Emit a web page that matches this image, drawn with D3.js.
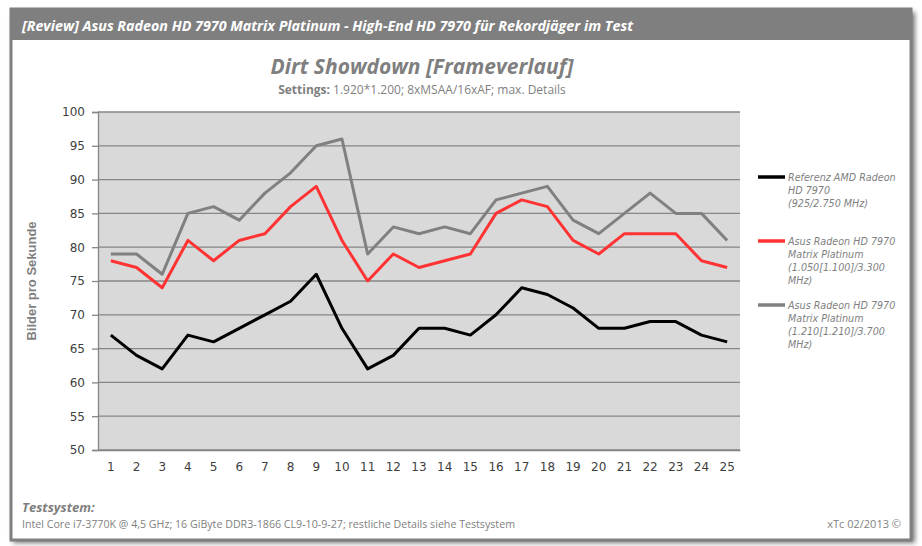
<!DOCTYPE html>
<html>
<head>
<meta charset="utf-8">
<script src="https://cdn.jsdelivr.net/npm/d3@7"></script>
<style>
  body { margin: 0; background: #fff; }
  svg text { font-family: "DejaVu Sans", Verdana, sans-serif; }
</style>
</head>
<body>
<svg id="board"></svg>
<script>
// data
let runs = d3.range(1, 26)
let refAmd = [67,64,62,67,66,68,70,72,76,68,62,64,68,68,67,70,74,73,71,68,68,69,69,67,66]
let matrixStock = [78,77,74,81,78,81,82,86,89,81,75,79,77,78,79,85,87,86,81,79,82,82,82,78,77]
let matrixOc = [79,79,76,85,86,84,88,91,95,96,79,83,82,83,82,87,88,89,84,82,85,88,85,85,81]
let yTicks = [50,55,60,65,70,75,80,85,90,95,100]

let seriesNames = [
  ['Referenz AMD Radeon', 'HD 7970', '(925/2.750 MHz)'],
  ['Asus Radeon HD 7970', 'Matrix Platinum', '(1.050[1.100]/3.300', 'MHz)'],
  ['Asus Radeon HD 7970', 'Matrix Platinum', '(1.210[1.210]/3.700', 'MHz)']
]
let seriesColors = ['#000000', '#ff3333', '#808080']
let seriesValues = [refAmd, matrixStock, matrixOc]

let width = 922
let height = 546
let plot = {left: 98, right: 740, top: 112, bottom: 450}

let board = d3.select('#board')
    .attr('width', width)
    .attr('height', height)

// frame with shadow
let defs = board.append('defs')
let blur = defs.append('filter').attr('id', 'shadow')
    .attr('x', '-5%').attr('y', '-5%').attr('width', '110%').attr('height', '115%')
blur.append('feGaussianBlur').attr('stdDeviation', 2.5)

board.append('rect')
    .attr('x', 13).attr('y', 12)
    .attr('width', 902).attr('height', 531)
    .attr('fill', '#777').attr('filter', 'url(#shadow)')
board.append('rect')
    .attr('x', 11).attr('y', 9)
    .attr('width', 900).attr('height', 531)
    .attr('fill', '#fff').attr('stroke', '#7f7f7f').attr('stroke-width', 3)
board.append('rect')
    .attr('x', 11).attr('y', 9)
    .attr('width', 900).attr('height', 31)
    .attr('fill', '#7f7f7f')

board.append('text')
    .attr('x', 22).attr('y', 31)
    .attr('fill', '#fff')
    .attr('textLength', 611).attr('lengthAdjust', 'spacingAndGlyphs')
    .style('font-family', '"Open Sans", sans-serif')
    .style('font-weight', 'bold').style('font-style', 'italic')
    .style('font-size', '15px')
    .text('[Review] Asus Radeon  HD 7970 Matrix Platinum - High-End HD 7970 für Rekordjäger im Test')

// titles
board.append('text')
    .attr('x', 422).attr('y', 74)
    .attr('text-anchor', 'middle')
    .attr('fill', '#7f7f7f')
    .style('font-family', '"Open Sans", sans-serif')
    .style('font-weight', 'bold').style('font-style', 'italic')
    .style('font-size', '21px')
    .text('Dirt Showdown [Frameverlauf]')

let sub = board.append('text')
    .attr('x', 422).attr('y', 94)
    .attr('text-anchor', 'middle')
    .attr('fill', '#7f7f7f')
    .style('font-family', '"Open Sans", sans-serif')
    .style('font-size', '12px')
sub.append('tspan').style('font-weight', 'bold').text('Settings: ')
sub.append('tspan').text('1.920*1.200; 8xMSAA/16xAF;  max. Details')

// scales
let xScale = d3.scaleBand()
    .domain(runs)
    .range([plot.left, plot.right])

let yScale = d3.scaleLinear()
    .domain([50, 100])
    .range([plot.bottom, plot.top])

board.append('rect')
    .attr('x', plot.left).attr('y', plot.top)
    .attr('width', plot.right - plot.left)
    .attr('height', plot.bottom - plot.top)
    .attr('fill', '#d9d9d9')

// grid
board.append('g')
    .selectAll('line')
    .data(yTicks)
    .enter()
    .append('line')
    .attr('x1', plot.left).attr('x2', plot.right)
    .attr('y1', (d) => yScale(d)).attr('y2', (d) => yScale(d))
    .attr('stroke', '#868686').attr('stroke-width', 1.3)

// axes
let yAxis = d3.axisLeft(yScale)
    .tickValues(yTicks)
    .tickSize(6)
    .tickPadding(7)
board.append('g')
    .attr('transform', 'translate(' + plot.left + ',0)')
    .call(yAxis)
    .call((g) => g.select('.domain').attr('stroke', '#868686').attr('stroke-width', 1.3))
    .call((g) => g.selectAll('.tick line').attr('stroke', '#868686').attr('stroke-width', 1.3))
    .call((g) => g.selectAll('.tick text').attr('fill', '#404040')
        .style('font-size', '12px').style('font-family', '"DejaVu Sans", Verdana, sans-serif'))

let xAxis = d3.axisBottom(xScale)
    .tickSize(0)
    .tickPadding(12)
board.append('g')
    .attr('transform', 'translate(0,' + plot.bottom + ')')
    .call(xAxis)
    .call((g) => g.select('.domain').attr('stroke', '#868686').attr('stroke-width', 1.3))
    .call((g) => g.selectAll('.tick text').attr('fill', '#404040')
        .style('font-size', '12px').style('font-family', '"DejaVu Sans", Verdana, sans-serif'))

board.append('text')
    .attr('transform', 'translate(36,' + ((plot.top + plot.bottom) / 2) + ') rotate(-90)')
    .attr('text-anchor', 'middle')
    .attr('fill', '#7f7f7f')
    .style('font-family', '"Liberation Sans", Arial, sans-serif')
    .style('font-weight', 'bold')
    .style('font-size', '13px')
    .text('Bilder  pro Sekunde')

// lines
let line = d3.line()
    .x((d, i) => xScale(runs[i]) + xScale.bandwidth() / 2)
    .y((d) => yScale(d))

board.append('g')
    .selectAll('path')
    .data(seriesValues)
    .enter()
    .append('path')
    .attr('d', (d) => line(d))
    .attr('fill', 'none')
    .attr('stroke', (d, i) => seriesColors[i])
    .attr('stroke-width', 3)
    .attr('stroke-linejoin', 'round')

// legend
let legendY = [177, 241, 305]
let legend = board.append('g')
    .selectAll('g')
    .data(seriesNames)
    .enter()
    .append('g')
    .attr('transform', (d, i) => 'translate(758,' + legendY[i] + ')')

legend.append('line')
    .attr('x1', 0).attr('x2', 27)
    .attr('stroke', (d, i) => seriesColors[i])
    .attr('stroke-width', 3.5)

legend.append('text')
    .attr('x', 30).attr('y', 4)
    .attr('fill', '#7f7f7f')
    .style('font-style', 'italic')
    .style('font-size', '9.6px')
    .selectAll('tspan')
    .data((d) => d)
    .enter()
    .append('tspan')
    .attr('x', 30)
    .attr('dy', (d, i) => i == 0 ? 0 : 13)
    .text((d) => d)

// footer
board.append('text')
    .attr('x', 22).attr('y', 512)
    .attr('fill', '#7f7f7f')
    .style('font-family', '"Open Sans", sans-serif')
    .style('font-weight', 'bold').style('font-style', 'italic')
    .style('font-size', '13px')
    .text('Testsystem:')

board.append('text')
    .attr('x', 22).attr('y', 528)
    .attr('fill', '#7f7f7f')
    .attr('textLength', 493).attr('lengthAdjust', 'spacingAndGlyphs')
    .style('font-family', '"Open Sans", sans-serif')
    .style('font-size', '11px')
    .text('Intel Core i7-3770K @ 4,5 GHz; 16 GiByte DDR3-1866 CL9-10-9-27; restliche Details siehe Testsystem')

board.append('text')
    .attr('x', 901).attr('y', 528)
    .attr('text-anchor', 'end')
    .attr('fill', '#7f7f7f')
    .style('font-family', '"Open Sans", sans-serif')
    .style('font-size', '11px')
    .text('xTc 02/2013 ©')
</script>
</body>
</html>
